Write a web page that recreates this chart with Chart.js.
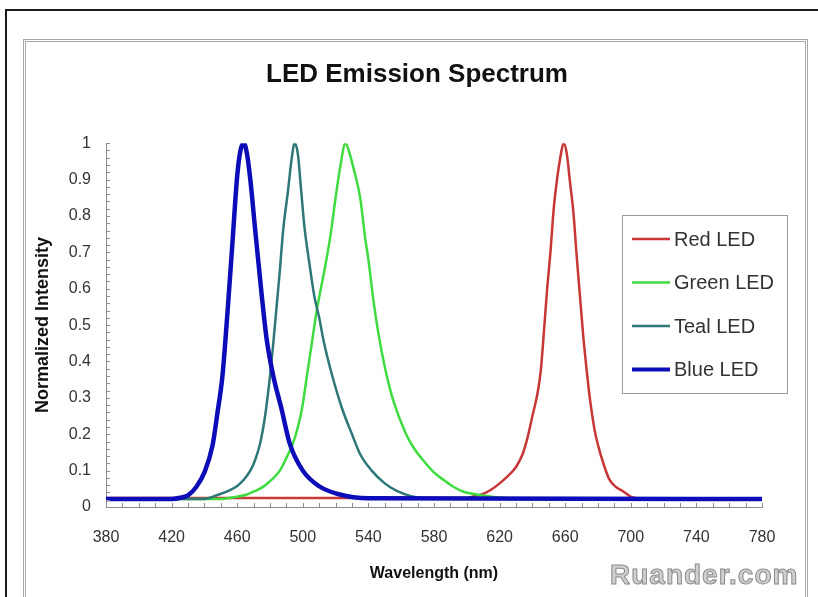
<!DOCTYPE html>
<html>
<head>
<meta charset="utf-8">
<script src="https://cdn.jsdelivr.net/npm/chart.js@4.4.0/dist/chart.umd.min.js"></script>
<style>
html,body{margin:0;padding:0;background:#fff;}
#wrap{position:relative;width:818px;height:597px;overflow:hidden;background:#fff;}
#outer{position:absolute;left:5px;top:9px;width:830px;height:600px;border-top:2px solid #1a1a1a;border-left:2px solid #1a1a1a;}
#inner{position:absolute;left:23px;top:39px;width:779px;height:600px;border:3px double #a8a8a8;}
canvas{position:absolute;left:0;top:0;}
#wm{position:absolute;left:610px;top:559px;font:bold 28px "Liberation Sans",Arial,sans-serif;color:#d0d0d0;-webkit-text-stroke:1px #8a8a8a;letter-spacing:1px;}
</style>
</head>
<body>
<div id="wrap">
  <div id="outer"></div>
  <div id="inner"></div>
  <canvas id="c" width="818" height="597"></canvas>
  <div id="wm">Ruander.com</div>
</div>
<script>
// ---- data ----
const chartTitle = "LED Emission Spectrum";
const xAxisTitle = "Wavelength (nm)";
const yAxisTitle = "Normalized Intensity";
const seriesNames = ["Red LED", "Green LED", "Teal LED", "Blue LED"];

const xTickValues = [380, 420, 460, 500, 540, 580, 620, 660, 700, 740, 780];
const xTickLabels = ["380", "420", "460", "500", "540", "580", "620", "660", "700", "740", "780"];
const yTickValues = [0, 0.1, 0.2, 0.3, 0.4, 0.5, 0.6, 0.7, 0.8, 0.9, 1];
const yTickLabels = ["0", "0.1", "0.2", "0.3", "0.4", "0.5", "0.6", "0.7", "0.8", "0.9", "1"];

const redWl  = [380, 600, 605, 610, 615, 620, 625, 630, 634, 637, 640, 643, 645, 647, 649, 651, 653, 655, 657, 659, 661, 663, 665, 667, 669, 671, 673, 675, 678, 680, 684, 687, 691, 695, 701, 710, 780];
const redVal = [0.025, 0.025, 0.03, 0.036, 0.048, 0.065, 0.085, 0.11, 0.145, 0.19, 0.25, 0.31, 0.37, 0.48, 0.60, 0.70, 0.82, 0.90, 0.96, 1.0, 0.97, 0.89, 0.81, 0.69, 0.58, 0.47, 0.38, 0.30, 0.21, 0.17, 0.11, 0.075, 0.055, 0.044, 0.026, 0.022, 0.022];

const greenWl  = [380, 450, 458, 465, 470, 476, 481, 486, 490, 494, 497, 499.5, 502.5, 505.5, 508.5, 511, 514, 517, 520, 523, 526, 528, 531, 535, 538, 540, 543, 546, 550, 555, 563, 568, 574, 580, 586, 592, 598, 605, 612, 620, 640, 780];
const greenVal = [0.022, 0.022, 0.027, 0.033, 0.042, 0.056, 0.075, 0.10, 0.135, 0.175, 0.22, 0.27, 0.36, 0.45, 0.54, 0.60, 0.67, 0.75, 0.85, 0.94, 1.0, 0.98, 0.93, 0.85, 0.74, 0.68, 0.57, 0.48, 0.385, 0.295, 0.20, 0.16, 0.125, 0.095, 0.074, 0.055, 0.042, 0.035, 0.03, 0.026, 0.022, 0.022];

const tealWl  = [380, 440, 448, 455, 460, 464, 468, 471, 474, 477, 480, 482, 484, 486, 488, 491, 493, 495, 497, 499, 501, 504, 507, 510, 513, 518, 524, 530, 535, 542, 550, 557, 566, 575, 780];
const tealVal = [0.022, 0.022, 0.033, 0.045, 0.058, 0.075, 0.10, 0.13, 0.175, 0.25, 0.36, 0.45, 0.55, 0.65, 0.76, 0.87, 0.95, 1.0, 0.97, 0.87, 0.77, 0.67, 0.58, 0.52, 0.45, 0.36, 0.27, 0.20, 0.145, 0.10, 0.065, 0.045, 0.03, 0.024, 0.022];

const blueWl  = [380, 420, 426, 430, 435, 440, 445, 448, 451, 454, 457, 460, 462, 464, 466, 468, 471, 475, 478, 482, 487, 492, 500, 510, 522, 540, 780];
const blueVal = [0.022, 0.022, 0.026, 0.032, 0.055, 0.095, 0.17, 0.26, 0.36, 0.53, 0.72, 0.91, 0.98, 1.0, 0.97, 0.90, 0.76, 0.58, 0.46, 0.36, 0.27, 0.175, 0.10, 0.057, 0.035, 0.024, 0.022];

// ---- styles ----
const FONT = '"Liberation Sans", Arial, sans-serif';
const seriesStyle = [
  {color: '#c83636', width: 2.5, order: 4},
  {color: '#3fdc3f', width: 2.5, order: 3},
  {color: '#2e7777', width: 2.5, order: 2},
  {color: '#0c0cb8', width: 4.5, order: 1}
];
const seriesX = [redWl, greenWl, tealWl, blueWl];
const seriesY = [redVal, greenVal, tealVal, blueVal];

const datasets = seriesNames.map((name, i) => ({
  label: name,
  data: seriesX[i].map((w, j) => ({x: w, y: seriesY[i][j]})),
  borderColor: seriesStyle[i].color,
  backgroundColor: seriesStyle[i].color,
  borderWidth: seriesStyle[i].width,
  pointRadius: 0,
  fill: false,
  cubicInterpolationMode: 'monotone',
  order: seriesStyle[i].order
}));

const minorTicks = {
  id: 'minorTicks',
  afterDraw(chart) {
    const {ctx, scales: {x, y}, chartArea: a} = chart;
    ctx.save();
    ctx.strokeStyle = '#8c8c8c';
    ctx.lineWidth = 1;
    ctx.beginPath();
    for (let v = x.min; v <= x.max; v += 10) {
      const px = Math.round(x.getPixelForValue(v)) + 0.5;
      ctx.moveTo(px, a.bottom); ctx.lineTo(px, a.bottom - 4);
    }
    for (let k = 0; k <= 50; k++) {
      const py = Math.round(y.getPixelForValue(k * 0.02)) + 0.5;
      ctx.moveTo(a.left, py); ctx.lineTo(a.left + 4, py);
    }
    ctx.stroke();
    ctx.restore();
  }
};

const boxLegend = {
  id: 'boxLegend',
  afterDraw(chart) {
    const ctx = chart.ctx;
    const L = 622, T = 215, W = 165, H = 178;
    ctx.save();
    ctx.fillStyle = '#fff';
    ctx.fillRect(L, T, W, H);
    ctx.strokeStyle = '#9a9a9a';
    ctx.lineWidth = 1;
    ctx.strokeRect(L + 0.5, T + 0.5, W, H);
    ctx.font = '20px ' + FONT;
    ctx.textBaseline = 'middle';
    ctx.textAlign = 'left';
    chart.data.datasets.forEach((ds, i) => {
      const yy = T + 24 + i * 43.5;
      ctx.strokeStyle = ds.borderColor;
      ctx.lineWidth = ds.borderWidth > 3 ? 4 : 2.5;
      ctx.beginPath();
      ctx.moveTo(632, yy); ctx.lineTo(670, yy);
      ctx.stroke();
      ctx.fillStyle = '#333';
      ctx.fillText(ds.label, 674, yy + 1);
    });
    ctx.restore();
  }
};

new Chart(document.getElementById('c'), {
  type: 'line',
  data: {datasets},
  options: {
    responsive: false,
    animation: false,
    events: [],
    layout: {padding: {left: 20, right: 4, top: 44, bottom: 10}},
    plugins: {
      legend: {display: false},
      tooltip: {enabled: false},
      title: {
        display: true,
        text: chartTitle,
        color: '#111',
        font: {family: FONT, size: 26, weight: 'bold'},
        padding: {top: 15, bottom: 53}
      }
    },
    scales: {
      x: {
        type: 'linear',
        min: 380, max: 780,
        afterFit: s => { s.height = 80; },
        afterBuildTicks: s => { s.ticks = xTickValues.map(v => ({value: v})); },
        grid: {display: false, drawTicks: false},
        border: {display: true, color: '#8c8c8c', width: 1},
        ticks: {
          padding: 21,
          color: '#333',
          font: {family: FONT, size: 16},
          maxRotation: 0,
          callback: v => xTickLabels[xTickValues.indexOf(v)]
        },
        title: {
          display: true, text: xAxisTitle, color: '#111',
          font: {family: FONT, size: 16, weight: 'bold'},
          padding: {top: 0, bottom: 4}
        }
      },
      y: {
        type: 'linear',
        min: 0, max: 1,
        afterFit: s => { s.width = 86; },
        afterBuildTicks: s => { s.ticks = yTickValues.map(v => ({value: v})); },
        grid: {display: false, drawTicks: false},
        border: {display: true, color: '#8c8c8c', width: 1},
        ticks: {
          padding: 15,
          color: '#333',
          font: {family: FONT, size: 16},
          callback: v => yTickLabels[yTickValues.indexOf(v)]
        },
        title: {
          display: true, text: yAxisTitle, color: '#111',
          font: {family: FONT, size: 18, weight: 'bold'},
          padding: {top: 12, bottom: 0}
        }
      },
      yR: {
        position: 'right',
        display: true,
        afterFit: s => { s.width = 52; },
        grid: {display: false, drawTicks: false},
        border: {display: false},
        ticks: {display: false}
      }
    }
  },
  plugins: [minorTicks, boxLegend]
});
</script>
</body>
</html>
